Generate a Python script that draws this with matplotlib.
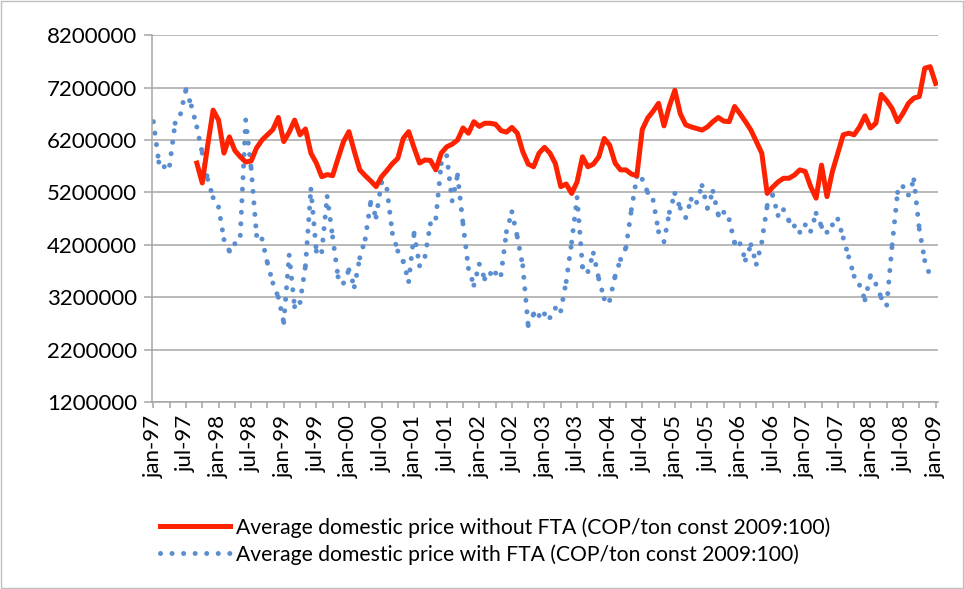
import numpy as np
import matplotlib.pyplot as plt
from matplotlib.collections import LineCollection
from matplotlib.lines import Line2D
from matplotlib.patches import Rectangle

# monthly prices, millions COP/ton (const 2009:100)
# with FTA: jan-97 .. dec-08
con_tlc = [
    6.55, 5.78, 5.69, 5.72, 6.52, 6.70, 7.16, 6.85, 6.45, 5.95,
    5.45, 5.10, 4.92, 4.30, 4.08, 4.22, 4.38, 6.58, 5.66, 4.38,
    4.31, 3.85, 3.47, 3.20, 2.72, 4.00, 3.02, 3.10, 3.80, 5.26,
    4.08, 4.07, 5.12, 4.35, 3.59, 3.47, 3.72, 3.40, 3.95, 4.31,
    5.01, 4.73, 5.39, 5.26, 4.42, 4.08, 3.88, 3.50, 4.42, 3.80,
    3.98, 4.60, 4.71, 5.75, 5.90, 5.04, 5.53, 4.60, 3.75, 3.43,
    3.83, 3.55, 3.66, 3.66, 3.63, 4.45, 4.83, 4.35, 3.80, 2.66,
    2.88, 2.85, 2.88, 2.81, 2.99, 2.94, 3.50, 4.25, 5.10, 3.78,
    3.69, 4.04, 3.55, 3.17, 3.14, 3.60, 3.92, 4.15, 4.87, 5.50,
    5.45, 5.20, 5.05, 4.45, 4.26, 4.82, 5.18, 4.90, 4.72, 5.07,
    5.01, 5.33, 4.90, 5.22, 4.77, 4.82, 4.68, 4.24, 4.22, 3.91,
    4.20, 3.83, 4.25, 4.95, 5.15, 4.76, 4.87, 4.66, 4.56, 4.44,
    4.58, 4.46, 4.80, 4.55, 4.44, 4.58, 4.69, 4.33, 3.97, 3.60,
    3.43, 3.15, 3.61, 3.45, 3.19, 3.05, 4.20, 5.20, 5.31, 5.15,
    5.44, 4.50, 3.90, 3.60,
]
# without FTA: sep-97 .. jan-09
sin_tlc = [
    5.76, 5.38, 6.10, 6.77, 6.58, 5.95, 6.26, 6.00, 5.88, 5.78,
    5.80, 6.05, 6.20, 6.30, 6.40, 6.63, 6.17, 6.35, 6.58, 6.30,
    6.41, 5.95, 5.76, 5.50, 5.54, 5.52, 5.85, 6.17, 6.36, 5.98,
    5.63, 5.52, 5.42, 5.31, 5.50, 5.62, 5.75, 5.85, 6.23, 6.36,
    6.05, 5.76, 5.82, 5.81, 5.63, 5.95, 6.07, 6.12, 6.20, 6.43,
    6.33, 6.55, 6.46, 6.52, 6.52, 6.50, 6.38, 6.35, 6.44, 6.33,
    5.98, 5.74, 5.69, 5.95, 6.06, 5.95, 5.75, 5.31, 5.36, 5.18,
    5.40, 5.88, 5.69, 5.74, 5.88, 6.23, 6.10, 5.76, 5.63, 5.63,
    5.55, 5.52, 6.40, 6.62, 6.75, 6.90, 6.47, 6.85, 7.15, 6.70,
    6.49, 6.45, 6.42, 6.39, 6.45, 6.55, 6.63, 6.56, 6.55, 6.84,
    6.70, 6.55, 6.39, 6.17, 5.95, 5.18, 5.30, 5.40, 5.47, 5.47,
    5.53, 5.63, 5.60, 5.31, 5.09, 5.72, 5.12, 5.60, 5.95, 6.30,
    6.33, 6.30, 6.45, 6.66, 6.43, 6.52, 7.07, 6.95, 6.80, 6.55,
    6.71, 6.90, 7.00, 7.03, 7.57, 7.60, 7.28,
]
inicio_sin = 8  # sep-97

etiquetas = ["Average domestic price without FTA (COP/ton const 2009:100)",
             "Average domestic price with FTA (COP/ton const 2009:100)"]

rojo = '#FF2200'
azul = '#5B8ED0'
gris = '#A6A6A6'
punteado = (0, (0.01, 2.3))

plt.rcParams['font.family'] = ['Lato', 'DejaVu Sans']

fig = plt.figure(figsize=(9.64, 5.89), dpi=100)
ax = fig.add_axes([0.1574, 0.3175, 0.8154, 0.6227])

x_con = np.arange(len(con_tlc))
y_con = np.array(con_tlc) * 1e6
x_sin = np.arange(inicio_sin, inicio_sin + len(sin_tlc))
y_sin = np.array(sin_tlc) * 1e6

ax.plot(x_sin, y_sin, color=rojo, lw=3.6, solid_joinstyle='round', zorder=3)

# Excel restarts the dot pattern on every segment
pts = np.column_stack([x_con, y_con])
segs = np.stack([pts[:-1], pts[1:]], axis=1)
lc = LineCollection(segs, colors=azul, linewidths=3.6, linestyles=[punteado],
                    capstyle='round', zorder=2)
ax.add_collection(lc)

ax.set_xlim(-0.3, 144.4)
ax.set_ylim(1.2e6, 8.2e6)
yt = np.arange(1200000, 8200001, 1000000)
ax.set_yticks(yt)
ax.set_yticklabels([str(v) for v in yt])

meses = ['jan', 'feb', 'mar', 'apr', 'may', 'jun', 'jul', 'aug', 'sep', 'oct', 'nov', 'dec']
xt = np.arange(0, 145, 3)
lab = []
for m in xt:
    if m % 6 == 0:
        lab.append(f"{meses[m % 12]}-{(97 + m // 12) % 100:02d}")
    else:
        lab.append('')
ax.set_xticks(xt)
ax.set_xticklabels(lab, rotation=90)

ax.yaxis.grid(True, color=gris, lw=1.1)
ax.set_axisbelow(True)
for s in ['top', 'right']:
    ax.spines[s].set_visible(False)
for s in ['left', 'bottom']:
    ax.spines[s].set_color(gris)
    ax.spines[s].set_linewidth(1.1)
ax.tick_params(axis='y', length=5.5, width=1.1, color=gris, labelsize=16, pad=5)
ax.tick_params(axis='x', length=4.5, width=1.1, color=gris, labelsize=16, pad=5)

handles = [Line2D([], [], color=rojo, lw=3.6),
           Line2D([], [], color=azul, lw=3.6, linestyle=punteado, dash_capstyle='round')]
fig.legend(handles, etiquetas, loc='upper left', bbox_to_anchor=(160 / 964, 1 - 517 / 589),
           frameon=False, fontsize=15.2, handlelength=3.3, handletextpad=0.3,
           borderpad=0, borderaxespad=0, labelspacing=0.3)

fig.patches.append(Rectangle((0.001, 0.002), 0.998, 0.996, transform=fig.transFigure,
                             fill=False, edgecolor='#BFBFBF', lw=1))

fig.savefig('out.png', dpi=100)
